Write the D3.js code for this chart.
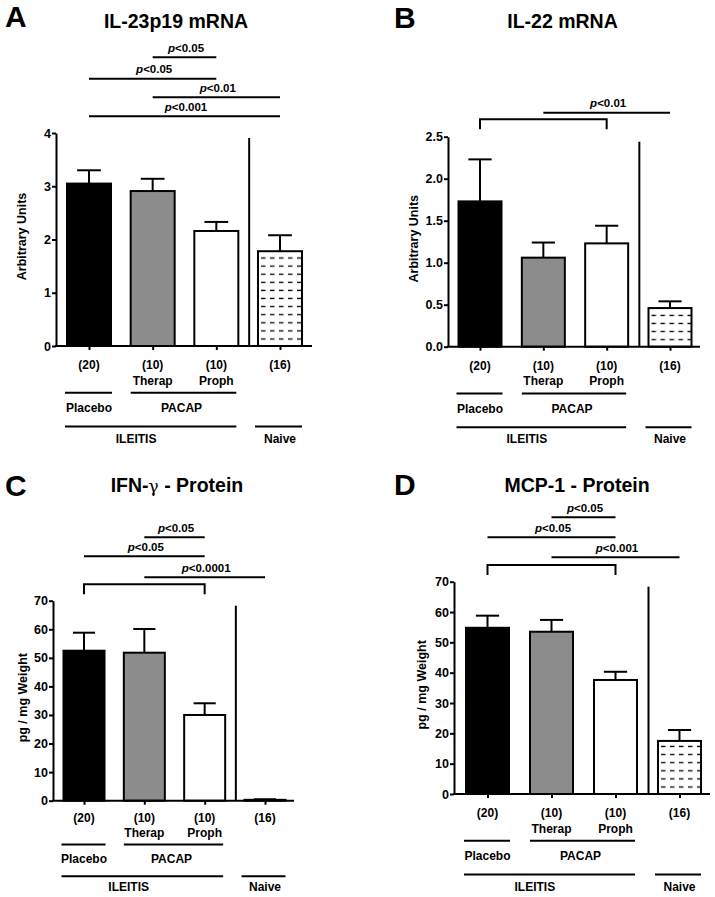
<!DOCTYPE html>
<html><head><meta charset="utf-8">
<script src="https://cdn.jsdelivr.net/npm/d3@7"></script>
<style>
body{margin:0;background:#fff}
svg{display:block}
text{font-family:"Liberation Sans",Arial,Helvetica,sans-serif;font-weight:bold;fill:#000}
</style>
</head><body>
<svg id="chart" width="715" height="897"></svg>
<script>
// ---------- DATA ----------
const categories = ["Placebo", "Therap", "Proph", "Naive"];
const nLabels = ["(20)", "(10)", "(10)", "(16)"];
const subLabels = ["", "Therap", "Proph", ""];
const groupLabels = ["Placebo", "PACAP", "ILEITIS", "Naive"];
const letters = ["A", "B", "C", "D"];
const titles = ["IL-23p19 mRNA", "IL-22 mRNA", "IFN-γ - Protein", "MCP-1 - Protein"];
const yTitles = ["Arbitrary Units", "Arbitrary Units", "pg / mg Weight", "pg / mg Weight"];

const meansA = [3.05, 2.91, 2.16, 1.78];
const semA   = [0.25, 0.23, 0.17, 0.30];
const meansB = [1.73, 1.06, 1.23, 0.46];
const semB   = [0.50, 0.18, 0.21, 0.08];
const meansC = [52.5, 51.8, 30.0, 0.3];
const semC   = [6.3, 8.3, 4.1, 0.2];
const meansD = [54.8, 53.5, 37.6, 17.5];
const semD   = [4.0, 3.9, 2.7, 3.6];

const ticksA = [0, 1, 2, 3, 4];
const ticksB = [0, 0.5, 1.0, 1.5, 2.0, 2.5];
const ticksC = [0, 10, 20, 30, 40, 50, 60, 70];
const ticksD = [0, 10, 20, 30, 40, 50, 60, 70];

// significance comparisons: [fromIndex, toIndex, label, kind]
const sigA = [[1, 2, "<0.05", "line"], [0, 2, "<0.05", "line"], [1, 3, "<0.01", "line"], [0, 3, "<0.001", "line"]];
const sigB = [[1, 3, "<0.01", "line"], [0, 2, "", "bracket"]];
const sigC = [[1, 2, "<0.05", "line"], [0, 2, "<0.05", "line"], [1, 3, "<0.0001", "line"], [0, 2, "", "bracket"]];
const sigD = [[1, 2, "<0.05", "line"], [0, 2, "<0.05", "line"], [1, 3, "<0.001", "line"], [0, 2, "", "bracket"]];

const panelData = [
  {means: meansA, sems: semA, ticks: ticksA, yMax: 4,   fmt: d3.format("d"),   sig: sigA},
  {means: meansB, sems: semB, ticks: ticksB, yMax: 2.5, fmt: d3.format(".1f"), sig: sigB},
  {means: meansC, sems: semC, ticks: ticksC, yMax: 70,  fmt: d3.format("d"),   sig: sigC},
  {means: meansD, sems: semD, ticks: ticksD, yMax: 70,  fmt: d3.format("d"),   sig: sigD}
];

// ---------- LAYOUT ----------
const layouts = [
  {ax: 56,  y0: 346,   yTop: 133,   right: 312, c0: 89,    c3: 280,   bw: 44, titleX: 176,   titleY: 28.3,  letterX: 5,   letterY: 27,  yTitleX: 22,  k: 1,    sigY: [57.3, 78.7, 97.3, 116.3]},
  {ax: 448, y0: 346.7, yTop: 136.7, right: 700, c0: 480,   c3: 670,   bw: 43, titleX: 562.5, titleY: 28.3,  letterX: 394, letterY: 28,  yTitleX: 414, k: 1,    sigY: [112.7, 119.3]},
  {ax: 53,  y0: 800.7, yTop: 600.7, right: 294, c0: 84,    c3: 265,   bw: 41, titleX: 177,   titleY: 492.3, letterX: 5,   letterY: 496, yTitleX: 23,  k: 0.94, sigY: [537.3, 556.3, 577.3, 584.3]},
  {ax: 454, y0: 794,   yTop: 581.7, right: 710, c0: 487.5, c3: 679.5, bw: 43, titleX: 577,   titleY: 492.3, letterX: 394, letterY: 495, yTitleX: 422, k: 1,    sigY: [517.3, 537.3, 557.3, 565]}
];

const fills = ["#000000", "#8c8c8c", "#ffffff", null];

const svg = d3.select("#chart");
const defs = svg.append("defs");

panelData.forEach((pd, i) => {
  const L = layouts[i];
  const g = svg.append("g");
  const x = d3.scalePoint().domain(categories).range([L.c0, L.c3]);
  const y = d3.scaleLinear().domain([0, pd.yMax]).range([L.y0, L.yTop]);
  const bw = L.bw;

  // hatch pattern for Naive bar
  const pid = "hatch" + i;
  const pat = defs.append("pattern").attr("id", pid)
    .attr("patternUnits", "userSpaceOnUse")
    .attr("width", 9).attr("height", 8.1)
    .attr("x", x("Naive") - bw / 2 + 2).attr("y", L.y0 - 11);
  pat.append("rect").attr("width", 9).attr("height", 8.1).attr("fill", "#fff");
  pat.append("line").attr("x1", 1).attr("x2", 5.5).attr("y1", 4).attr("y2", 4)
    .attr("stroke", "#000").attr("stroke-width", 1.3);

  // panel letter + title
  g.append("text").attr("x", L.letterX).attr("y", L.letterY)
    .style("font-size", "30px").text(letters[i]);
  const t = g.append("text").attr("x", L.titleX).attr("y", L.titleY)
    .attr("text-anchor", "middle").style("font-size", "19.5px");
  const parts = titles[i].split("γ");
  t.append("tspan").text(parts[0]);
  if (parts.length > 1) {
    t.append("tspan").style("font-weight", "normal").style("font-family", "'DejaVu Serif',serif").style("font-size", "17px").text("γ");
    t.append("tspan").text(parts[1]);
  }

  // y axis title
  g.append("text")
    .attr("transform", `translate(${L.yTitleX},${(L.y0 + L.yTop) / 2 - 3}) rotate(-90)`)
    .attr("text-anchor", "middle").attr("dominant-baseline", "central")
    .style("font-size", "12.5px").text(yTitles[i]);

  // bars
  g.selectAll("rect.bar").data(categories).enter().append("rect")
    .attr("class", "bar")
    .attr("x", d => x(d) - bw / 2)
    .attr("width", bw)
    .attr("y", (d, j) => y(pd.means[j]))
    .attr("height", (d, j) => L.y0 - y(pd.means[j]))
    .attr("fill", (d, j) => fills[j] || `url(#${pid})`)
    .attr("stroke", "#000").attr("stroke-width", 2);

  // error bars (upper only)
  g.selectAll("line.err").data(categories).enter().append("line")
    .attr("x1", d => x(d)).attr("x2", d => x(d))
    .attr("y1", (d, j) => y(pd.means[j]))
    .attr("y2", (d, j) => y(pd.means[j] + pd.sems[j]))
    .attr("stroke", "#000").attr("stroke-width", 2);
  g.selectAll("line.cap").data(categories).enter().append("line")
    .attr("x1", d => x(d) - bw * 0.27).attr("x2", d => x(d) + bw * 0.27)
    .attr("y1", (d, j) => y(pd.means[j] + pd.sems[j]))
    .attr("y2", (d, j) => y(pd.means[j] + pd.sems[j]))
    .attr("stroke", "#000").attr("stroke-width", 2);

  // separator line
  const sepX = (x("Proph") + x("Naive")) / 2 + 1;
  g.append("line").attr("x1", sepX).attr("x2", sepX)
    .attr("y1", L.yTop + 5).attr("y2", L.y0)
    .attr("stroke", "#000").attr("stroke-width", 2);

  // y axis
  const yAxis = d3.axisLeft(y).tickValues(pd.ticks).tickFormat(pd.fmt).tickSize(4).tickSizeOuter(0).tickPadding(1);
  const ya = g.append("g").attr("transform", `translate(${L.ax},0)`).call(yAxis);
  ya.select(".domain").attr("stroke-width", 2);
  ya.selectAll(".tick line").attr("stroke-width", 2);
  ya.selectAll(".tick text").style("font-size", "12.5px").style("font-family", "'Liberation Sans',Arial,sans-serif").style("font-weight", "bold");

  // x axis
  g.append("line").attr("x1", L.ax - 1).attr("x2", L.right).attr("y1", L.y0).attr("y2", L.y0)
    .attr("stroke", "#000").attr("stroke-width", 2);
  const xAxis = d3.axisBottom(x).tickSize(4).tickFormat("");
  const xa = g.append("g").attr("transform", `translate(0,${L.y0})`).call(xAxis);
  xa.select(".domain").remove();
  xa.selectAll(".tick line").attr("stroke-width", 2);

  // category labels
  const k = L.k;
  g.selectAll("text.n").data(categories).enter().append("text")
    .attr("x", d => x(d)).attr("y", L.y0 + 23 * k)
    .attr("text-anchor", "middle").style("font-size", "12px")
    .text((d, j) => nLabels[j]);
  g.selectAll("text.sub").data(categories).enter().append("text")
    .attr("x", d => x(d)).attr("y", L.y0 + 38.5 * k)
    .attr("text-anchor", "middle").style("font-size", "12px")
    .text((d, j) => subLabels[j]);

  const hw = bw / 2;
  const gl = [
    [x("Placebo") - hw - 2, x("Placebo") + hw + 1, L.y0 + 46.7 * k],
    [x("Therap") - hw, x("Proph") + hw - 2, L.y0 + 46.7 * k],
    [x("Placebo") - hw - 2, x("Proph") + hw - 2, L.y0 + 80.5 * k],
    [x("Naive") - hw - 3, x("Naive") + hw, L.y0 + 80.5 * k]
  ];
  gl.forEach(s => g.append("line").attr("x1", s[0]).attr("x2", s[1]).attr("y1", s[2]).attr("y2", s[2])
    .attr("stroke", "#000").attr("stroke-width", 2));
  const step = x.step();
  const gt = [
    [x("Placebo"), L.y0 + 66 * k],
    [(x("Therap") + x("Proph")) / 2 - 3, L.y0 + 66 * k],
    [x("Placebo") + 0.74 * step, L.y0 + 96.5 * k],
    [x("Naive"), L.y0 + 96.5 * k]
  ];
  gt.forEach((p, j) => g.append("text").attr("x", p[0]).attr("y", p[1])
    .attr("text-anchor", "middle").style("font-size", "12px").text(groupLabels[j]));

  // significance annotations
  pd.sig.forEach((s, j) => {
    const yy = L.sigY[j];
    const x1 = x(categories[s[0]]), x2 = x(categories[s[1]]);
    if (s[3] === "bracket") {
      g.append("path").attr("d", `M${x1},${yy + 10}V${yy}H${x2}V${yy + 10}`)
        .attr("fill", "none").attr("stroke", "#000").attr("stroke-width", 2);
    } else {
      g.append("line").attr("x1", x1).attr("x2", x2).attr("y1", yy).attr("y2", yy)
        .attr("stroke", "#000").attr("stroke-width", 2);
    }
    if (s[2]) {
      const tx = g.append("text").attr("x", (x1 + x2) / 2 + 1.5).attr("y", yy - 5.5)
        .attr("text-anchor", "middle").style("font-size", "11.5px");
      tx.append("tspan").style("font-style", "italic").text("p");
      tx.append("tspan").text(s[2]);
    }
  });
});
</script>
</body></html>
